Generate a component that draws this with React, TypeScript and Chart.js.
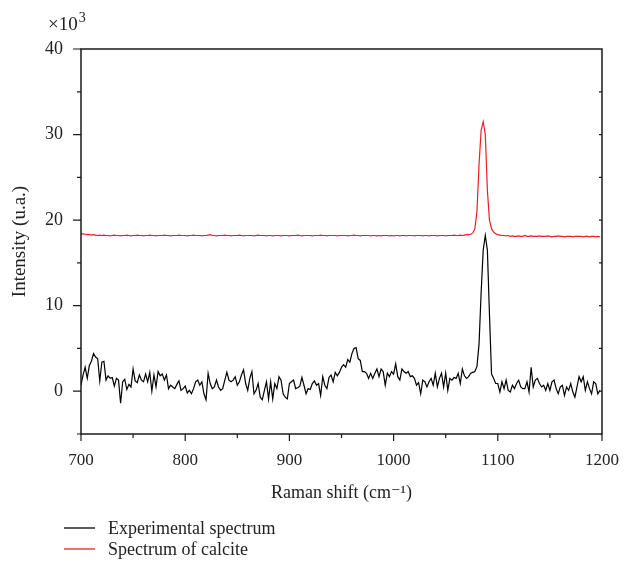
import React, { useEffect, useRef } from "react";
import { Chart, registerables } from "chart.js";

Chart.register(...registerables);

// Raman shift grid: 700 .. 1198 cm^-1, step 2
const shiftStart = 700;
const shiftStep = 2;

// Intensity in thousands (×10^3)
const experimental = [
  0.7, 1.9, 2.8, 1.5, 3.0, 3.5, 4.4, 4.0, 3.8, 1.2,
  3.4, 3.5, 1.3, 1.8, 1.5, 1.6, 0.6, 1.5, 1.3, -1.4,
  1.1, 1.4, 0.2, 0.8, 0.5, 2.6, 1.2, 1.0, 1.9, 1.3,
  1.1, 2.0, 1.1, 2.2, 0.0, 1.9, 0.5, 2.3, 1.8, 2.0,
  1.3, 1.9, 0.3, 0.7, 0.5, 0.3, 0.8, 1.2, 0.1, 0.3,
  0.6, -0.2, 0.1, -0.3, 0.3, 1.1, 1.3, 0.7, 1.1, -0.3,
  -1.0, 2.1, 0.9, 0.3, 0.5, 1.3, 0.5, 0.1, 0.3, 1.3,
  2.2, 1.3, 1.1, 1.3, 1.7, 0.7, 1.1, 1.9, 2.5, 0.9,
  0.1, 1.5, 2.3, -0.3, 0.1, 0.9, -0.7, -1.0, 0.1, 1.1,
  -0.9, 1.1, -0.9, 0.9, 0.3, 1.7, 1.3, -0.3, -0.7, -0.9,
  0.9, 1.1, 1.3, 0.3, 0.4, 0.6, 1.6, 0.7, -0.3, 0.3,
  0.2, 0.9, 1.2, 0.7, 0.9, -0.5, 1.7, 0.7, 0.3, 1.6,
  1.9, 1.1, 2.2, 1.8, 2.2, 2.8, 3.1, 2.8, 3.7, 3.4,
  4.4, 5.0, 5.1, 3.8, 3.6, 2.3, 2.3, 2.1, 1.5, 2.1,
  1.5, 2.1, 2.6, 1.7, 2.6, 2.3, 0.7, 2.1, 1.7, 2.3,
  2.0, 3.2, 1.7, 1.3, 2.6, 2.3, 2.1, 2.3, 1.7, 1.8,
  1.5, 0.7, 1.0, -0.3, 1.3, 1.1, 0.5, 1.1, 1.5, 0.7,
  2.1, 0.5, 1.5, 2.1, 0.5, 2.1, 0.1, 1.5, 1.3, 1.6,
  1.5, 2.1, 0.9, 2.6, 1.8, 1.5, 1.7, 2.1, 2.2, 2.3,
  2.9, 5.5, 11.5, 16.5, 18.2, 16.5, 9.0, 2.0, 1.5, 0.9,
  0.9, -0.1, 1.1, 0.3, 1.3, 0.1, -0.1, 0.7, 0.3, 0.9,
  1.3, 0.5, 0.3, 0.3, 1.1, -0.1, 2.8, 0.5, 1.3, 1.5,
  0.9, 0.5, 0.7, 0.1, 0.9, 0.1, 1.1, 1.3, 0.3, -0.3,
  0.5, 0.7, -0.5, 0.5, 0.1, 0.9, -0.1, -0.7, 0.5, 1.7,
  1.1, 1.7, 0.1, 1.1, 0.3, -0.3, 1.1, 0.9, -0.3, 0.1,
];

const calcite = [
  18.4, 18.4, 18.35, 18.3, 18.3, 18.25, 18.3, 18.25, 18.2, 18.25,
  18.2, 18.25, 18.2, 18.2, 18.15, 18.2, 18.25, 18.2, 18.2, 18.15,
  18.2, 18.2, 18.25, 18.2, 18.15, 18.2, 18.2, 18.25, 18.2, 18.2,
  18.15, 18.2, 18.2, 18.25, 18.2, 18.2, 18.15, 18.2, 18.2, 18.2,
  18.25, 18.2, 18.2, 18.15, 18.2, 18.2, 18.2, 18.25, 18.2, 18.2,
  18.2, 18.15, 18.2, 18.2, 18.25, 18.2, 18.2, 18.2, 18.15, 18.2,
  18.2, 18.25, 18.3, 18.2, 18.2, 18.15, 18.2, 18.2, 18.2, 18.25,
  18.2, 18.2, 18.15, 18.2, 18.2, 18.2, 18.25, 18.2, 18.15, 18.2,
  18.2, 18.2, 18.2, 18.15, 18.2, 18.25, 18.2, 18.2, 18.2, 18.15,
  18.2, 18.2, 18.15, 18.2, 18.2, 18.2, 18.15, 18.2, 18.2, 18.2,
  18.15, 18.2, 18.2, 18.2, 18.25, 18.2, 18.15, 18.2, 18.2, 18.2,
  18.2, 18.15, 18.2, 18.2, 18.2, 18.25, 18.2, 18.2, 18.15, 18.2,
  18.2, 18.2, 18.2, 18.15, 18.2, 18.2, 18.2, 18.2, 18.15, 18.2,
  18.2, 18.25, 18.2, 18.2, 18.15, 18.2, 18.2, 18.2, 18.2, 18.15,
  18.2, 18.2, 18.15, 18.2, 18.15, 18.2, 18.2, 18.2, 18.15, 18.2,
  18.15, 18.2, 18.2, 18.15, 18.2, 18.2, 18.15, 18.2, 18.2, 18.2,
  18.15, 18.2, 18.2, 18.2, 18.15, 18.2, 18.2, 18.15, 18.2, 18.2,
  18.2, 18.15, 18.2, 18.2, 18.2, 18.15, 18.2, 18.2, 18.2, 18.25,
  18.2, 18.2, 18.25, 18.2, 18.25, 18.3, 18.3, 18.35, 18.5, 19.0,
  21.0, 26.5, 30.5, 31.5, 30.0, 23.5, 20.0, 19.0, 18.6, 18.4,
  18.3, 18.25, 18.2, 18.2, 18.15, 18.2, 18.1, 18.15, 18.1, 18.1,
  18.15, 18.1, 18.1, 18.2, 18.1, 18.1, 18.15, 18.1, 18.1, 18.1,
  18.15, 18.1, 18.1, 18.1, 18.15, 18.1, 18.05, 18.1, 18.1, 18.15,
  18.1, 18.1, 18.05, 18.1, 18.1, 18.1, 18.05, 18.1, 18.1, 18.1,
  18.1, 18.05, 18.1, 18.1, 18.05, 18.1, 18.1, 18.05, 18.1, 18.05,
];

const xMajorTicks = [700, 800, 900, 1000, 1100, 1200];
const xMinorTicks = [750, 850, 950, 1050, 1150];
const yMajorTicks = [0, 10, 20, 30, 40];
const yMinorTicks = [-5, 5, 15, 25, 35];
const rightTicks = [0, 5, 10, 15, 20, 25, 30, 35];

const seriesLabels = ["Experimental spectrum", "Spectrum of calcite"];
const seriesColors = ["#000000", "#ee1c25"];

const FONT = '"Liberation Serif", "DejaVu Serif", serif';
const TEXT = "#222222";

const decor = {
  id: "decor",
  afterDraw(chart: any) {
    const { ctx, chartArea: a, scales } = chart;
    const xs = scales.x;
    const ys = scales.y;
    ctx.save();
    ctx.strokeStyle = "#1a1a1a";
    ctx.lineWidth = 1.5;
    ctx.strokeRect(a.left, a.top, a.right - a.left, a.bottom - a.top);
    ctx.lineWidth = 1.2;
    ctx.beginPath();
    for (const v of xMajorTicks) {
      const p = xs.getPixelForValue(v);
      ctx.moveTo(p, a.bottom);
      ctx.lineTo(p, a.bottom + 7);
    }
    for (const v of xMinorTicks) {
      const p = xs.getPixelForValue(v);
      ctx.moveTo(p, a.bottom);
      ctx.lineTo(p, a.bottom + 4);
    }
    for (const v of yMajorTicks) {
      const p = ys.getPixelForValue(v);
      ctx.moveTo(a.left - 8, p);
      ctx.lineTo(a.left, p);
    }
    for (const v of yMinorTicks) {
      const p = ys.getPixelForValue(v);
      ctx.moveTo(a.left - 4, p);
      ctx.lineTo(a.left, p);
    }
    for (const v of rightTicks) {
      const p = ys.getPixelForValue(v);
      ctx.moveTo(a.right - 3, p);
      ctx.lineTo(a.right, p);
    }
    ctx.stroke();

    // multiplier
    ctx.fillStyle = TEXT;
    ctx.textBaseline = "alphabetic";
    ctx.textAlign = "left";
    ctx.font = `19px ${FONT}`;
    ctx.fillText("×10", 48, 30);
    const w = ctx.measureText("×10").width;
    ctx.font = `14px ${FONT}`;
    ctx.fillText("3", 48 + w + 1, 22);

    // legend
    const rows = [528, 549];
    ctx.font = `18px ${FONT}`;
    ctx.textBaseline = "middle";
    rows.forEach((yy, i) => {
      ctx.strokeStyle = seriesColors[i];
      ctx.lineWidth = 1.3;
      ctx.beginPath();
      ctx.moveTo(64, yy);
      ctx.lineTo(95, yy);
      ctx.stroke();
      ctx.fillStyle = TEXT;
      ctx.fillText(seriesLabels[i], 108, yy + 1);
    });
    ctx.restore();
  },
};

export default function App() {
  const ref = useRef<HTMLCanvasElement>(null);
  useEffect(() => {
    document.body.style.margin = "0";
    const toPoints = (arr: number[]) =>
      arr.map((v, i) => ({ x: shiftStart + shiftStep * i, y: v }));
    const chart = new Chart(ref.current as HTMLCanvasElement, {
      type: "line",
      data: {
        datasets: [
          {
            label: seriesLabels[0],
            data: toPoints(experimental),
            borderColor: seriesColors[0],
            borderWidth: 1.2,
            pointRadius: 0,
            tension: 0,
            fill: false,
          },
          {
            label: seriesLabels[1],
            data: toPoints(calcite),
            borderColor: seriesColors[1],
            borderWidth: 1.2,
            pointRadius: 0,
            tension: 0,
            fill: false,
          },
        ],
      },
      options: {
        responsive: false,
        animation: false,
        layout: { padding: { top: 49, right: 23, bottom: 57, left: 0 } },
        plugins: { legend: { display: false }, tooltip: { enabled: false } },
        scales: {
          x: {
            type: "linear",
            min: 700,
            max: 1200,
            afterBuildTicks: (s: any) => {
              s.ticks = xMajorTicks.map((v) => ({ value: v }));
            },
            afterFit: (s: any) => {
              s.height = 75;
              s.paddingLeft = 0;
              s.paddingRight = 0;
            },
            grid: { display: false, drawTicks: false },
            border: { display: false },
            ticks: {
              padding: 16,
              color: TEXT,
              font: { family: FONT, size: 17 },
              maxRotation: 0,
              callback: (v: any) => String(v),
            },
            title: {
              display: true,
              text: "Raman shift (cm⁻¹)",
              color: TEXT,
              font: { family: FONT, size: 18 },
              padding: { top: 0, bottom: 5 },
            },
          },
          y: {
            type: "linear",
            min: -5,
            max: 40,
            afterBuildTicks: (s: any) => {
              s.ticks = yMajorTicks.map((v) => ({ value: v }));
            },
            afterFit: (s: any) => {
              s.width = 81;
              s.paddingTop = 0;
              s.paddingBottom = 0;
            },
            grid: { display: false, drawTicks: false },
            border: { display: false },
            ticks: {
              padding: 18,
              color: TEXT,
              font: { family: FONT, size: 18 },
              callback: (v: any) => String(v),
            },
            title: {
              display: true,
              text: "Intensity (u.a.)",
              color: TEXT,
              font: { family: FONT, size: 19 },
              padding: { top: 9, bottom: 0 },
            },
          },
        },
      },
      plugins: [decor],
    });
    return () => chart.destroy();
  }, []);
  return (
    <div style={{ position: "relative", width: 625, height: 566 }}>
      <canvas ref={ref} width={625} height={566} style={{ display: "block" }} />
    </div>
  );
}
